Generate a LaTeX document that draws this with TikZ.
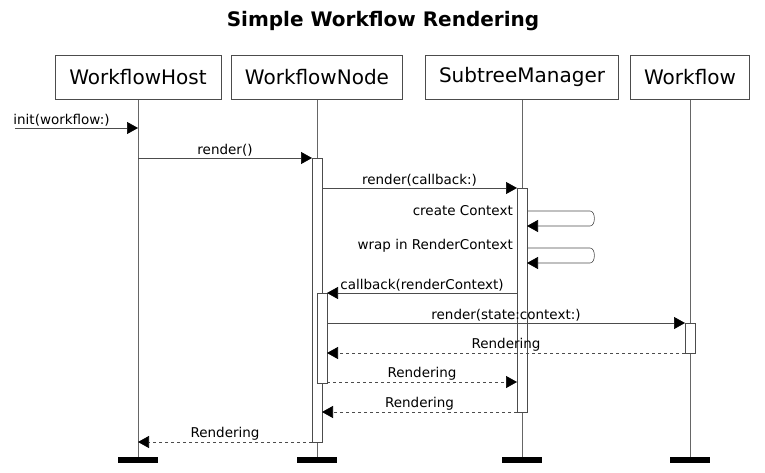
\documentclass[tikz,border=0pt]{standalone}
\usepackage{fontspec}
\setmainfont{DejaVu Sans}
\usetikzlibrary{arrows.meta}
\begin{document}
\begin{tikzpicture}[x=1pt,y=-1pt,
  part/.style={draw=black!70,fill=white,minimum height=44pt,inner sep=0pt,font=\fontsize{20}{22}\selectfont},
  life/.style={draw=black!60,line width=0.6pt},
  act/.style={draw=black!70,fill=white,minimum width=10pt,inner sep=0pt},
  bar/.style={fill=black,minimum width=40pt,minimum height=6pt,inner sep=0pt},
  msg/.style={draw=black!70,line width=0.6pt,-{Triangle[length=11pt,width=12pt,fill=black,color=black]}},
  ret/.style={msg,dashed},
  lbl/.style={font=\fontsize{13.5}{15}\selectfont,above,inner sep=1pt}]
\useasboundingbox (0,0) rectangle (765,473);
\node[font=\bfseries\fontsize{20}{22}\selectfont] (title) at (383,21) {Simple Workflow Rendering};
% lifelines
\foreach \n/\x in {h/138,n/317,s/522,w/690}{
  \coordinate (\n top) at (\x,99); \coordinate (\n bot) at (\x,457);
  \draw[life] (\n top) -- (\n bot);
  \node[bar] (\n bar) at (\x,460) {};
}
\node[part,minimum width=166pt] (host) at (138,77) {WorkflowHost};
\node[part,minimum width=171pt] (node) at (317,77) {WorkflowNode};
\node[part,minimum width=193pt] (sub) at (522,77) {SubtreeManager};
\node[part,minimum width=119pt] (wf) at (690,77) {Workflow};
% activations
\node[act,minimum height=284pt,anchor=north] (na1) at (317,158) {};
\node[act,minimum height=90pt,anchor=north] (na2) at (322,293) {};
\node[act,minimum height=224pt,anchor=north] (sa) at (522,188) {};
\node[act,minimum height=30pt,anchor=north] (wa) at (690,323) {};
% messages
\coordinate (start) at (15,128);
\coordinate (h1) at (138,128);
\draw[msg] (start) -- node[lbl,xshift=-15pt]{init(workflow:)} (h1);
\coordinate (h2) at (138,158); \coordinate (n2) at (312,158);
\draw[msg] (h2) -- node[lbl]{render()} (n2);
\coordinate (n3) at (322,188); \coordinate (s3) at (517,188);
\draw[msg] (n3) -- node[lbl]{render(callback:)} (s3);
\coordinate (s4) at (527,211); \coordinate (s4b) at (527,226);
\draw[msg] (s4) -- (590,211) to[out=0,in=0,looseness=1] (590,226) -- (s4b);
\node[font=\fontsize{13.5}{15}\selectfont,anchor=south east,inner sep=1pt] (l4) at (514,217) {create Context};
\coordinate (s5) at (527,248); \coordinate (s5b) at (527,263);
\draw[msg] (s5) -- (590,248) to[out=0,in=0,looseness=1] (590,263) -- (s5b);
\node[font=\fontsize{13.5}{15}\selectfont,anchor=south east,inner sep=1pt] (l5) at (514,254) {wrap in RenderContext};
\coordinate (s6) at (517,293); \coordinate (n6) at (327,293);
\draw[msg] (s6) -- node[lbl]{callback(renderContext)} (n6);
\coordinate (n7) at (327,323); \coordinate (w7) at (685,323);
\draw[msg] (n7) -- node[lbl]{render(state:context:)} (w7);
\coordinate (w8) at (685,353); \coordinate (n8) at (327,353);
\draw[ret] (w8) -- node[lbl]{Rendering} (n8);
\coordinate (n9) at (327,382); \coordinate (s9) at (517,382);
\draw[ret] (n9) -- node[lbl]{Rendering} (s9);
\coordinate (s10) at (517,412); \coordinate (n10) at (322,412);
\draw[ret] (s10) -- node[lbl]{Rendering} (n10);
\coordinate (n11) at (312,442); \coordinate (h11) at (138,442);
\draw[ret] (n11) -- node[lbl]{Rendering} (h11);
\end{tikzpicture}
\end{document}
